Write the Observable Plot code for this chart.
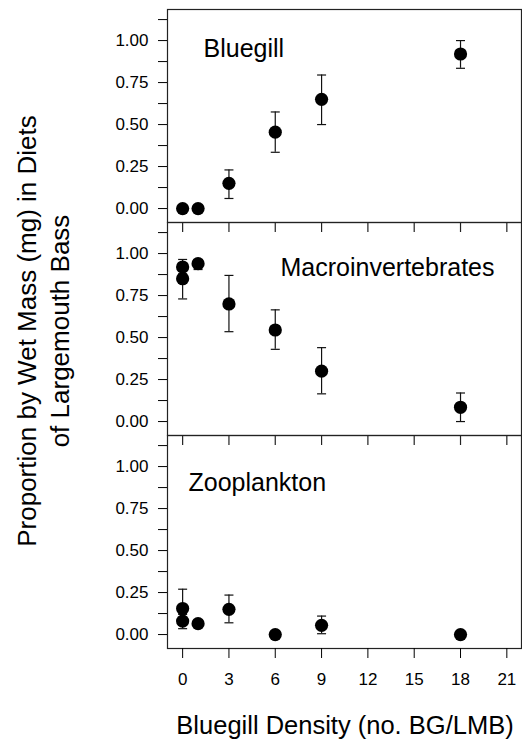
<!DOCTYPE html>
<html><head><meta charset="utf-8">
<script src="https://cdn.jsdelivr.net/npm/d3@7"></script>
<script src="https://cdn.jsdelivr.net/npm/@observablehq/plot@0.6"></script>
<style>body{margin:0;background:#fff}#chart{width:522px;height:742px}</style>
</head><body><div id="chart"></div>
<script>
const panels = ["Bluegill", "Macroinvertebrates", "Zooplankton"];

const bluegillX  = [0, 1, 3, 6, 9, 18];
const bluegillY  = [0.00, 0.00, 0.15, 0.455, 0.65, 0.92];
const bluegillLo = [null, null, 0.06, 0.335, 0.50, 0.835];
const bluegillHi = [null, null, 0.23, 0.575, 0.795, 1.00];

const macroX  = [0, 0, 1, 3, 6, 9, 18];
const macroY  = [0.92, 0.85, 0.94, 0.70, 0.545, 0.30, 0.085];
const macroLo = [0.88, 0.73, 0.905, 0.535, 0.43, 0.165, 0.00];
const macroHi = [0.965, 0.93, 0.965, 0.87, 0.665, 0.44, 0.17];

const zooX  = [0, 0, 1, 3, 6, 9, 18];
const zooY  = [0.155, 0.08, 0.065, 0.15, 0.00, 0.055, 0.00];
const zooLo = [0.10, 0.035, 0.045, 0.07, null, 0.005, null];
const zooHi = [0.27, 0.12, 0.085, 0.235, null, 0.11, null];

const xTicks = [0, 3, 6, 9, 12, 15, 18, 21];
const yTicks = [0, 0.125, 0.25, 0.375, 0.5, 0.625, 0.75, 0.875, 1, 1.125];
const yTickLabels = {"0": "0.00", "0.25": "0.25", "0.5": "0.50", "0.75": "0.75", "1": "1.00"};

const xTitle = "Bluegill Density (no. BG/LMB)";
const yTitle = ["Proportion by Wet Mass (mg) in Diets", "of Largemouth Bass"];

function build(panel, xs, ys, los, his) {
  return xs.map((x, i) => ({panel, x, y: ys[i], lo: los[i], hi: his[i]}));
}
const rows = [
  ...build(panels[0], bluegillX, bluegillY, bluegillLo, bluegillHi),
  ...build(panels[1], macroX, macroY, macroLo, macroHi),
  ...build(panels[2], zooX, zooY, zooLo, zooHi)
];
const errRows = rows.filter(d => d.lo != null);
const caps = errRows.flatMap(d => [{panel: d.panel, x: d.x, y: d.lo}, {panel: d.panel, x: d.x, y: d.hi}]);
const topTicks = [panels[1], panels[2]].flatMap(p => xTicks.map(x => ({panel: p, x})));

const capSymbol = {draw(ctx, size) { const r = Math.sqrt(size / Math.PI); ctx.moveTo(-r, 0); ctx.lineTo(r, 0); }};

const labelMark = (name, dx, dy) => Plot.text([name], {
  fy: d => d, text: d => d, frameAnchor: "top-left", textAnchor: "start", lineAnchor: "bottom",
  dx, dy, fontSize: 25, fill: "#000"
});

const plot = Plot.plot({
  width: 522, height: 742,
  marginLeft: 167, marginRight: 1, marginTop: 9, marginBottom: 94,
  style: {fontFamily: "'Liberation Sans', Arial, Helvetica, sans-serif", fontSize: "17px", color: "#000", background: "#fff", overflow: "visible"},
  x: {domain: [-0.98, 21.95]},
  y: {domain: [-0.083, 1.185]},
  fy: {domain: panels, padding: 0, axis: null},
  marks: [
    Plot.frame({stroke: "#222", strokeWidth: 1.2}),
    Plot.axisY({ticks: yTicks, tickSize: 9, tickPadding: 10, fontSize: 17, label: null,
      tickFormat: d => yTickLabels[String(d)] ?? ""}),
    Plot.axisX({ticks: xTicks, tickSize: 10, tickPadding: 14, fontSize: 17, label: null}),
    Plot.tickX(topTicks, {x: "x", fy: "panel", insetBottom: 203, stroke: "#222", strokeWidth: 1.2}),
    Plot.ruleX(errRows, {x: "x", y1: "lo", y2: "hi", fy: "panel", stroke: "#111", strokeWidth: 1.2}),
    Plot.dot(caps, {x: "x", y: "y", fy: "panel", symbol: capSymbol, r: 4.5, stroke: "#111", strokeWidth: 1.2, fill: "none"}),
    Plot.dot(rows, {x: "x", y: "y", fy: "panel", r: 6.6, fill: "#000", stroke: "none"}),
    labelMark(panels[0], 36, 47.5),
    labelMark(panels[1], 113, 53),
    labelMark(panels[2], 21, 55)
  ]
});

const svg = d3.select(plot);
svg.append("text")
  .attr("x", 345).attr("y", 734)
  .attr("text-anchor", "middle")
  .attr("font-size", 25.5).attr("fill", "#000")
  .text(xTitle);
const yl = svg.append("text")
  .attr("transform", "translate(36,331) rotate(-90)")
  .attr("text-anchor", "middle")
  .attr("font-size", 26).attr("fill", "#000");
yl.append("tspan").attr("x", 0).attr("y", 0).text(yTitle[0]);
yl.append("tspan").attr("x", 0).attr("y", 33).text(yTitle[1]);

document.getElementById("chart").appendChild(plot);
</script>
</body></html>
